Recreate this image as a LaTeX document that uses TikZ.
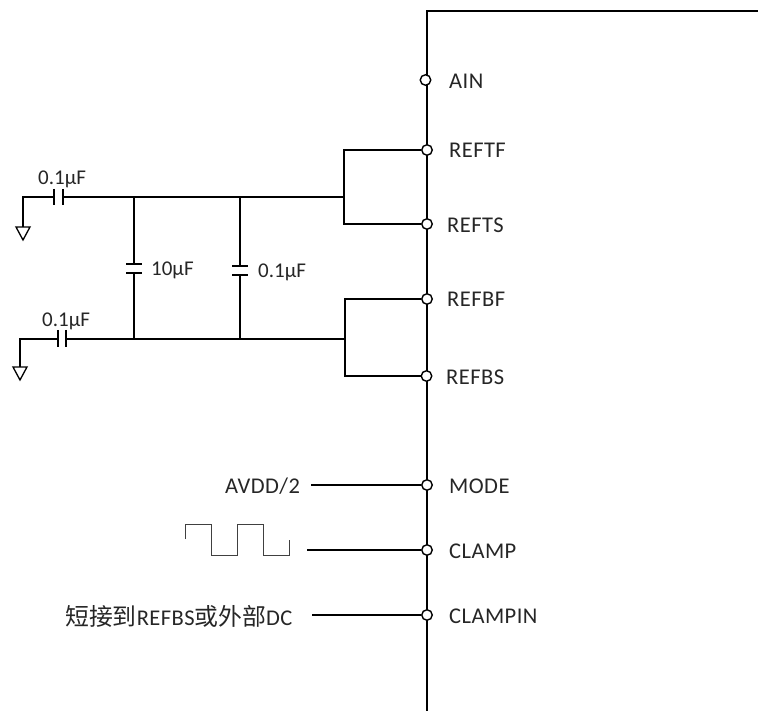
\documentclass[tikz,border=0pt]{standalone}
\usepackage{fontspec}
\setmainfont{Carlito}
\newfontfamily\spaced{Carlito}[LetterSpace=2]
\newfontfamily\cjk{Noto Sans CJK SC}[Scale=1.06]
\tikzset{
  wire/.style={line width=1.5pt,black},
  thinwire/.style={line width=1pt,black!75},
  pin/.style={circle,draw=black,fill=white,line width=1.4pt,minimum size=10.5pt,inner sep=0pt},
  lbl/.style={font=\fontsize{21}{23}\selectfont,anchor=west,inner sep=0pt,text=black!85},
  pinlbl/.style={font=\fontsize{22.5}{24}\selectfont\spaced,anchor=west,inner sep=0pt,text=black!85},
  plate/.style={line width=1.5pt,black},
}
\begin{document}
\begin{tikzpicture}[x=1pt,y=-1pt]
\useasboundingbox (0,0) rectangle (758,711);
% chip edge
\coordinate (chipT) at (427,11);
\coordinate (chipR) at (758,11);
\coordinate (chipB) at (427,711);
\draw[wire] (chipR) -- (chipT) -- (chipB);
% pins
\foreach \n/\xx/\yy in {ain/425.5/80,reftf/427/150,refts/427/224,refbf/427/299,refbs/426.5/376,mode/427/485,clamp/427/550,clampin/427/615}
  \node[pin] (\n) at (\xx,\yy) {};
% pin labels
\node[pinlbl] (tAIN) at (449,81) {AIN};
\node[pinlbl] (tTF) at (449,150) {REFTF};
\node[pinlbl] (tTS) at (447,225) {REFTS};
\node[pinlbl] (tBF) at (447,299) {REFBF};
\node[pinlbl] (tBS) at (446,377) {REFBS};
\node[pinlbl] (tMODE) at (449,486) {MODE};
\node[pinlbl] (tCLAMP) at (449,551) {CLAMP};
\node[pinlbl] (tCLAMPIN) at (449,616) {CLAMPIN};
% bracket junctions
\coordinate (jt) at (344,197);
\coordinate (jb) at (345,339);
\draw[wire,line width=1.3pt] (reftf) -- (jt |- reftf) -- (jt |- refts) -- (refts);
\draw[wire,line width=1.3pt] (refbf) -- (jb |- refbf) -- (jb |- refbs) -- (refbs);
% top series capacitor and ground
\coordinate (gt) at (23,197);
\coordinate (gtb) at (23,227);
\coordinate (ct1) at (54,197);
\coordinate (ct2) at (63,197);
\draw[wire] (gtb) -- (gt) -- (ct1);
\draw[wire] (ct2) -- (jt);
\draw[plate] (54,189) -- (54,205);
\draw[plate] (63,189) -- (63,205);
\draw[wire,line width=1.3pt,line join=miter] (16,227) -- (30,227) -- (23,240) -- cycle;
\node[lbl] (c1) at (38,179) {0.1µF};
% bottom series capacitor and ground
\coordinate (gb) at (20,339);
\coordinate (gbb) at (20,367);
\coordinate (cb1) at (58,339);
\coordinate (cb2) at (66,339);
\draw[wire] (gbb) -- (gb) -- (cb1);
\draw[wire] (cb2) -- (jb);
\draw[plate] (58,330) -- (58,347);
\draw[plate] (66,330) -- (66,347);
\draw[wire,line width=1.3pt,line join=miter] (13,367) -- (27,367) -- (20,380) -- cycle;
\node[lbl] (c2) at (42,321) {0.1µF};
% 10uF
\coordinate (a1) at (134,197);
\coordinate (a2) at (134,264);
\coordinate (a3) at (134,273);
\coordinate (a4) at (134,339);
\draw[wire] (a1) -- (a2);
\draw[wire] (a3) -- (a4);
\draw[plate] (126,264) -- (142,264);
\draw[plate] (126,273) -- (142,273);
\node[lbl] (c3) at (151,270) {10µF};
% 0.1uF
\coordinate (b1) at (240,197);
\coordinate (b2) at (240,266);
\coordinate (b3) at (240,275);
\coordinate (b4) at (240,339);
\draw[wire] (b1) -- (b2);
\draw[wire] (b3) -- (b4);
\draw[plate] (232,266) -- (248,266);
\draw[plate] (232,275) -- (248,275);
\node[lbl] (c4) at (258,272) {0.1µF};
% inputs
\node[pinlbl] (avdd) at (225,486) {AVDD/2};
\coordinate (m0) at (311,485);
\coordinate (c0) at (307,550);
\coordinate (p0) at (312,615);
\draw[wire] (m0) -- (mode);
\draw[wire] (c0) -- (clamp);
\draw[wire] (p0) -- (clampin);
\draw[thinwire] (185,539) -- (185,524) -- (211,524) -- (211,555) -- (237,555) -- (237,524) -- (263,524) -- (263,555) -- (289,555) -- (289,540);
\node[pinlbl] (dc) at (65,616) {{\cjk 短接到}REFBS{\cjk 或外部}DC};
\end{tikzpicture}
\end{document}
